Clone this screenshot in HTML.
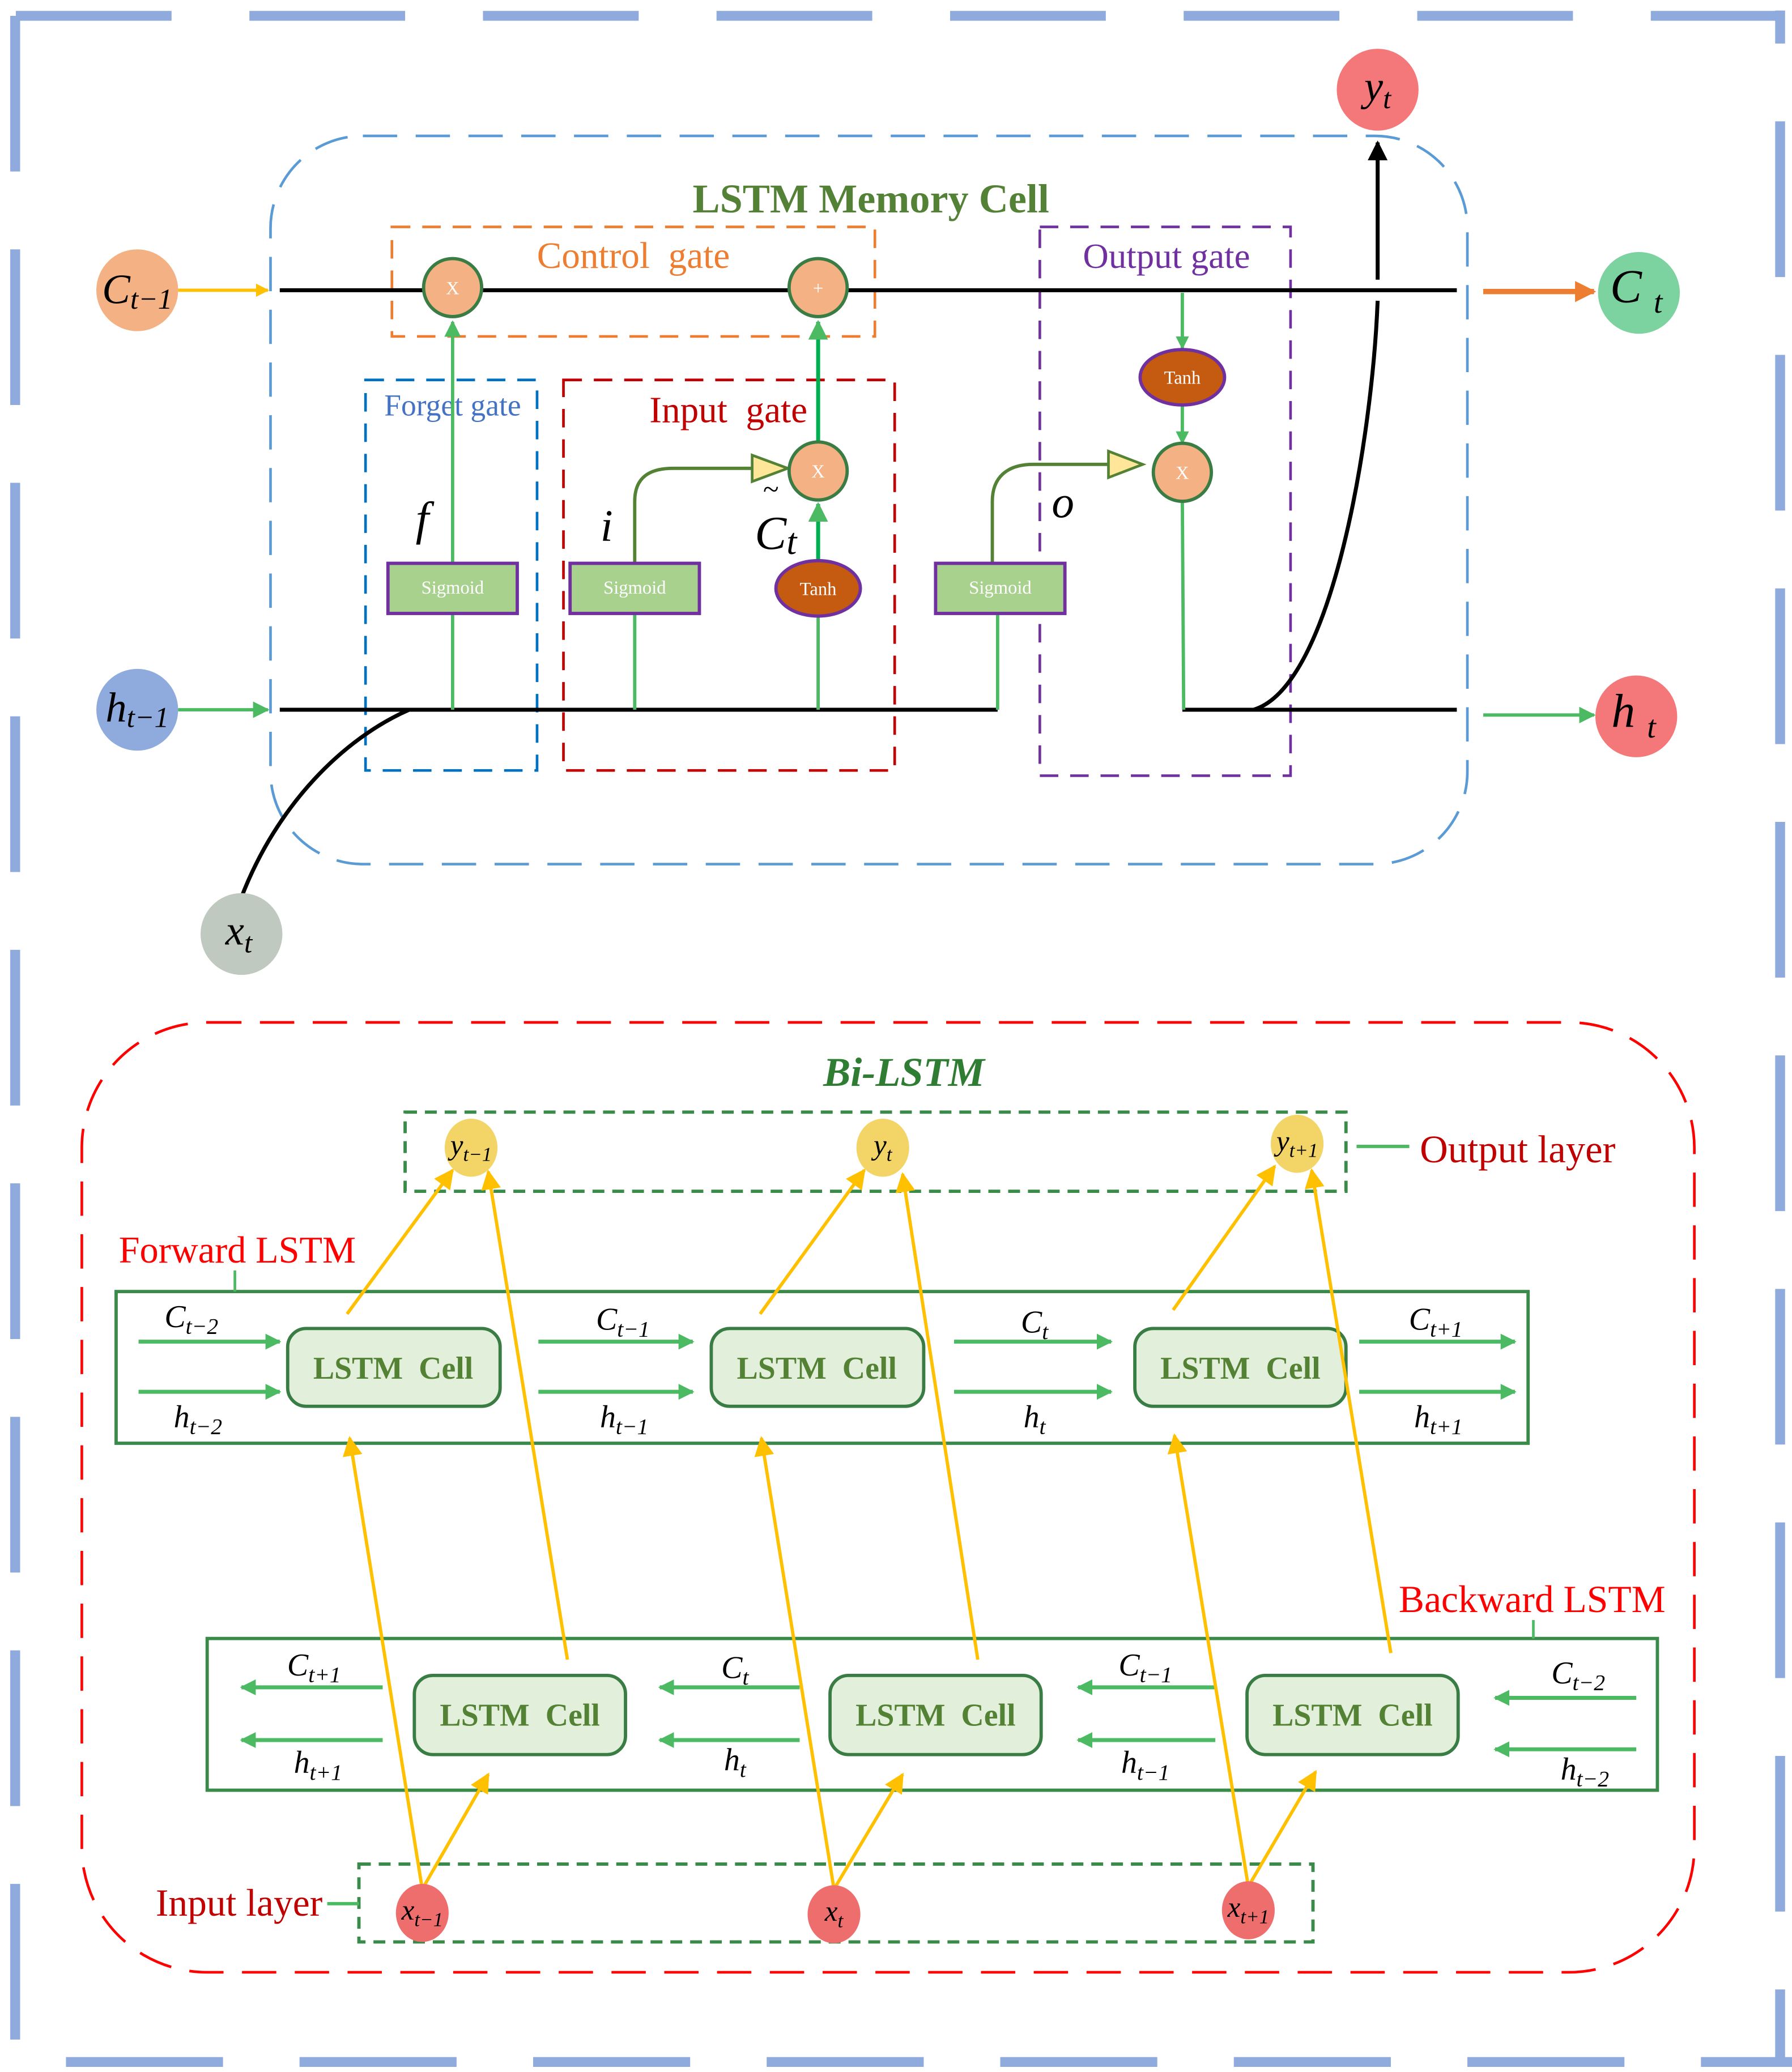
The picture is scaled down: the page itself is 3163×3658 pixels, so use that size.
<!DOCTYPE html>
<html><head><meta charset="utf-8"><style>
html,body{margin:0;padding:0;background:#fff}
svg{display:block}
text{font-family:"Liberation Serif",serif}
</style></head><body>
<svg width="3163" height="3658" viewBox="0 0 1358 1570.6" preserveAspectRatio="none" xmlns="http://www.w3.org/2000/svg">
<defs>
<marker id="ag" viewBox="0 0 10 10" refX="9" refY="5" markerWidth="5" markerHeight="5" orient="auto-start-reverse" markerUnits="strokeWidth"><path d="M0,0 L10,5 L0,10 z" fill="#4cb963"/></marker>
<marker id="ag2" viewBox="0 0 10 10" refX="9" refY="5" markerWidth="4" markerHeight="4" orient="auto" markerUnits="strokeWidth"><path d="M0,0 L10,5 L0,10 z" fill="#4cb963"/></marker>
<marker id="ay" viewBox="0 0 10 10" refX="9" refY="5" markerWidth="6" markerHeight="6" orient="auto" markerUnits="strokeWidth"><path d="M0,0 L10,5 L0,10 z" fill="#ffc000"/></marker>
<marker id="ay2" viewBox="0 0 10 10" refX="9" refY="5" markerWidth="6" markerHeight="4" orient="auto" markerUnits="strokeWidth"><path d="M0,0 L10,5 L0,10 z" fill="#ffc000"/></marker>
<marker id="ao" viewBox="0 0 10 10" refX="9" refY="5" markerWidth="4" markerHeight="4" orient="auto" markerUnits="strokeWidth"><path d="M0,0 L10,5 L0,10 z" fill="#ed7d31"/></marker>
<marker id="ab" viewBox="0 0 10 10" refX="9" refY="5" markerWidth="5" markerHeight="5" orient="auto" markerUnits="strokeWidth"><path d="M0,0 L10,5 L0,10 z" fill="#000"/></marker>
</defs>

<!-- outer border -->
<g stroke="#8faadc" stroke-width="7.5" fill="none">
<line x1="12" y1="12" x2="1349" y2="12" stroke-dasharray="118 59"/>
<line x1="1349" y1="8" x2="1349" y2="33"/>
<line x1="1349" y1="92" x2="1349" y2="1563" stroke-dasharray="118 59"/>
<line x1="11.5" y1="12" x2="11.5" y2="1563" stroke-dasharray="118 59"/>
<line x1="50" y1="1563" x2="1358" y2="1563" stroke-dasharray="119 58"/>
</g>

<!-- LSTM memory cell box -->
<rect x="205" y="103" width="907" height="552" rx="70" fill="none" stroke="#5b9bd5" stroke-width="2" stroke-dasharray="26 14"/>
<text x="660" y="161" text-anchor="middle" font-size="31" font-weight="bold" fill="#538135">LSTM Memory Cell</text>

<!-- gate boxes -->
<rect x="297" y="172" width="366" height="83" fill="none" stroke="#ed7d31" stroke-width="2" stroke-dasharray="14 9"/>
<text x="480" y="203" text-anchor="middle" font-size="28" fill="#ed7d31">Control&#160;&#160;gate</text>
<rect x="277" y="288" width="130" height="296" fill="none" stroke="#0070c0" stroke-width="2" stroke-dasharray="14 9"/>
<text x="343" y="315" text-anchor="middle" font-size="23" fill="#4472c4">Forget gate</text>
<rect x="427" y="288" width="251" height="296" fill="none" stroke="#c00000" stroke-width="2" stroke-dasharray="14 9"/>
<text x="552" y="320" text-anchor="middle" font-size="28" fill="#c00000">Input&#160;&#160;gate</text>
<rect x="788" y="172" width="190" height="416" fill="none" stroke="#7030a0" stroke-width="2" stroke-dasharray="14 9"/>
<text x="884" y="203" text-anchor="middle" font-size="27" fill="#7030a0">Output gate</text>

<!-- main lines -->
<g stroke="#000" stroke-width="3" fill="none">
<line x1="212" y1="220" x2="1104" y2="220"/>
<line x1="212" y1="538" x2="756" y2="538"/>
<line x1="896" y1="538" x2="1104" y2="538"/>
<path d="M183,680 C210,610 260,560 310,538"/>
<path d="M950,538 C1010,520 1040,330 1044,228"/>
<line x1="1044" y1="212" x2="1044" y2="108" marker-end="url(#ab)"/>
</g>

<!-- green connectors -->
<g stroke="#4cb963" stroke-width="2.5" fill="none">
<line x1="343" y1="538" x2="343" y2="465"/>
<line x1="343" y1="427" x2="343" y2="244" marker-end="url(#ag)"/>
<line x1="481" y1="538" x2="481" y2="465"/>
<line x1="620" y1="538" x2="620" y2="467"/>
<line x1="620" y1="425" x2="620" y2="382" stroke="#00b050" stroke-width="3" marker-end="url(#ag)"/>
<line x1="620" y1="335" x2="620" y2="244" stroke="#00b050" stroke-width="3" marker-end="url(#ag)"/>
<line x1="756" y1="538" x2="756" y2="465"/>
<line x1="896" y1="222" x2="896" y2="264" marker-end="url(#ag2)"/>
<line x1="896" y1="307" x2="896" y2="336" marker-end="url(#ag2)"/>
<line x1="896" y1="380" x2="897" y2="538"/>
<line x1="135" y1="538" x2="203" y2="538" marker-end="url(#ag)"/>
<line x1="1124" y1="542" x2="1208" y2="542" marker-end="url(#ag)"/>
</g>
<g stroke="#548235" stroke-width="2.5" fill="none">
<path d="M481,427 L481,380 C481,362 492,355 510,355 L570,355"/>
<path d="M752,427 L752,380 C752,362 763,352 783,352 L840,352"/>
</g>
<path d="M570,345 L597,355 L570,365 z" fill="#ffe699" stroke="#548235" stroke-width="2"/>
<path d="M840,342 L866,352 L840,362 z" fill="#ffe699" stroke="#548235" stroke-width="2"/>
<line x1="135" y1="220" x2="203" y2="220" stroke="#ffc000" stroke-width="2.5" marker-end="url(#ay2)"/>
<line x1="1124" y1="221" x2="1208" y2="221" stroke="#ed7d31" stroke-width="4" marker-end="url(#ao)"/>

<!-- operation circles -->
<g stroke="#3a7d44" stroke-width="2.5" fill="#f4b183">
<ellipse cx="343" cy="218" rx="22" ry="22"/>
<ellipse cx="620" cy="218" rx="22" ry="22"/>
<ellipse cx="620" cy="357" rx="22" ry="22"/>
<ellipse cx="896" cy="358" rx="22" ry="22"/>
</g>
<g font-size="14" fill="#fff" text-anchor="middle">
<text x="343" y="223">X</text><text x="620" y="223">+</text>
<text x="620" y="362">X</text><text x="896" y="363">X</text>
</g>

<!-- sigmoid & tanh -->
<g fill="#a9d18e" stroke="#7030a0" stroke-width="2.5">
<rect x="294" y="427" width="98" height="38"/>
<rect x="432" y="427" width="98" height="38"/>
<rect x="709" y="427" width="98" height="38"/>
</g>
<g font-size="14" fill="#fff" text-anchor="middle">
<text x="343" y="450">Sigmoid</text><text x="481" y="450">Sigmoid</text><text x="758" y="450">Sigmoid</text>
</g>
<g fill="#c55a11" stroke="#7030a0" stroke-width="2.5">
<ellipse cx="620" cy="446" rx="32" ry="21"/>
<ellipse cx="896" cy="286" rx="32" ry="21"/>
</g>
<g font-size="14" fill="#fff" text-anchor="middle">
<text x="620" y="451">Tanh</text><text x="896" y="291">Tanh</text>
</g>

<!-- gate labels -->
<g font-style="italic" fill="#000">
<text x="315" y="405" font-size="36">f</text>
<text x="455" y="410" font-size="34">i</text>
<text x="578" y="378" font-size="22">~</text>
<text x="572" y="416" font-size="36">C<tspan font-size="28" dy="4">t</tspan></text>
<text x="797" y="392" font-size="34">o</text>
</g>

<!-- state nodes -->
<circle cx="104" cy="220" r="31" fill="#f4b183"/>
<text x="104" y="230" text-anchor="middle" font-size="32" font-style="italic">C<tspan font-size="22" dy="4">t−1</tspan></text>
<circle cx="104" cy="538" r="31" fill="#8faadc"/>
<text x="104" y="547" text-anchor="middle" font-size="32" font-style="italic">h<tspan font-size="22" dy="4">t−1</tspan></text>
<circle cx="183" cy="708" r="31" fill="#bfc9bf"/>
<text x="181" y="716" text-anchor="middle" font-size="32" font-style="italic">x<tspan font-size="22" dy="6">t</tspan></text>
<circle cx="1044" cy="68" r="31" fill="#f4777a"/>
<text x="1044" y="76" text-anchor="middle" font-size="32" font-style="italic">y<tspan font-size="22" dy="6">t</tspan></text>
<circle cx="1242" cy="222" r="31" fill="#7dd3a0"/>
<text x="1240" y="229" text-anchor="middle" font-size="36" font-style="italic">C <tspan font-size="24" dy="8">t</tspan></text>
<circle cx="1240" cy="543" r="31" fill="#f4777a"/>
<text x="1238" y="551" text-anchor="middle" font-size="36" font-style="italic">h <tspan font-size="24" dy="8">t</tspan></text>

<!-- Bi-LSTM -->
<rect x="62" y="775" width="1222" height="720" rx="95" fill="none" stroke="#ff0000" stroke-width="2" stroke-dasharray="26 14"/>
<text x="685" y="823" text-anchor="middle" font-size="31" font-weight="bold" font-style="italic" fill="#2e7d32">Bi-LSTM</text>

<rect x="307" y="843" width="713" height="60" fill="none" stroke="#3a8a4a" stroke-width="2.5" stroke-dasharray="9 6"/>
<line x1="1028" y1="869" x2="1068" y2="869" stroke="#4cb963" stroke-width="2.5"/>
<text x="1076" y="881" font-size="29.5" fill="#c00000">Output layer</text>

<rect x="88" y="979" width="1070" height="115" fill="none" stroke="#3a8a4a" stroke-width="2.5"/>
<text x="90" y="957" font-size="28.5" fill="#ff0000">Forward LSTM</text>
<line x1="178" y1="963" x2="178" y2="979" stroke="#4cb963" stroke-width="2"/>

<rect x="157" y="1242" width="1099" height="115" fill="none" stroke="#3a8a4a" stroke-width="2.5"/>
<text x="1060" y="1222" font-size="29" fill="#ff0000">Backward LSTM</text>
<line x1="1162" y1="1228" x2="1162" y2="1242" stroke="#4cb963" stroke-width="2"/>

<rect x="272" y="1413" width="723" height="59" fill="none" stroke="#3a8a4a" stroke-width="2.5" stroke-dasharray="9 6"/>
<line x1="248" y1="1443" x2="272" y2="1443" stroke="#4cb963" stroke-width="2.5"/>
<text x="118" y="1452" font-size="29" fill="#c00000">Input layer</text>

<!-- cells -->
<g fill="#e2efda" stroke="#3a7d44" stroke-width="2.5">
<rect x="218" y="1007" width="161" height="59" rx="14"/>
<rect x="539" y="1007" width="161" height="59" rx="14"/>
<rect x="860" y="1007" width="160" height="59" rx="14"/>
<rect x="314" y="1270" width="160" height="60" rx="14"/>
<rect x="629" y="1270" width="160" height="60" rx="14"/>
<rect x="945" y="1270" width="160" height="60" rx="14"/>
</g>
<g font-size="24" font-weight="bold" fill="#548235" text-anchor="middle">
<text x="298" y="1045">LSTM&#160;&#160;Cell</text><text x="619" y="1045">LSTM&#160;&#160;Cell</text><text x="940" y="1045">LSTM&#160;&#160;Cell</text>
<text x="394" y="1308">LSTM&#160;&#160;Cell</text><text x="709" y="1308">LSTM&#160;&#160;Cell</text><text x="1025" y="1308">LSTM&#160;&#160;Cell</text>
</g>

<!-- forward arrows -->
<g stroke="#4cb963" stroke-width="3" fill="none">
<line x1="105" y1="1017" x2="212" y2="1017" marker-end="url(#ag2)"/>
<line x1="105" y1="1055" x2="212" y2="1055" marker-end="url(#ag2)"/>
<line x1="408" y1="1017" x2="525" y2="1017" marker-end="url(#ag2)"/>
<line x1="408" y1="1055" x2="525" y2="1055" marker-end="url(#ag2)"/>
<line x1="723" y1="1017" x2="842" y2="1017" marker-end="url(#ag2)"/>
<line x1="723" y1="1055" x2="842" y2="1055" marker-end="url(#ag2)"/>
<line x1="1030" y1="1017" x2="1148" y2="1017" marker-end="url(#ag2)"/>
<line x1="1030" y1="1055" x2="1148" y2="1055" marker-end="url(#ag2)"/>
<line x1="290" y1="1279" x2="183" y2="1279" marker-end="url(#ag2)"/>
<line x1="290" y1="1319" x2="183" y2="1319" marker-end="url(#ag2)"/>
<line x1="606" y1="1279" x2="500" y2="1279" marker-end="url(#ag2)"/>
<line x1="606" y1="1319" x2="500" y2="1319" marker-end="url(#ag2)"/>
<line x1="921" y1="1279" x2="817" y2="1279" marker-end="url(#ag2)"/>
<line x1="921" y1="1319" x2="817" y2="1319" marker-end="url(#ag2)"/>
<line x1="1240" y1="1287" x2="1133" y2="1287" marker-end="url(#ag2)"/>
<line x1="1240" y1="1326" x2="1133" y2="1326" marker-end="url(#ag2)"/>
</g>
<g font-size="24" font-style="italic" fill="#000" text-anchor="middle">
<text x="145" y="1006">C<tspan font-size="17" dy="5">t−2</tspan></text>
<text x="150" y="1082">h<tspan font-size="17" dy="5">t−2</tspan></text>
<text x="472" y="1008">C<tspan font-size="17" dy="5">t−1</tspan></text>
<text x="473" y="1082">h<tspan font-size="17" dy="5">t−1</tspan></text>
<text x="784" y="1010">C<tspan font-size="17" dy="5">t</tspan></text>
<text x="784" y="1082">h<tspan font-size="17" dy="5">t</tspan></text>
<text x="1088" y="1008">C<tspan font-size="17" dy="5">t+1</tspan></text>
<text x="1090" y="1082">h<tspan font-size="17" dy="5">t+1</tspan></text>
<text x="238" y="1270">C<tspan font-size="17" dy="5">t+1</tspan></text>
<text x="241" y="1344">h<tspan font-size="17" dy="5">t+1</tspan></text>
<text x="557" y="1272">C<tspan font-size="17" dy="5">t</tspan></text>
<text x="557" y="1342">h<tspan font-size="17" dy="5">t</tspan></text>
<text x="868" y="1270">C<tspan font-size="17" dy="5">t−1</tspan></text>
<text x="868" y="1344">h<tspan font-size="17" dy="5">t−1</tspan></text>
<text x="1196" y="1276">C<tspan font-size="17" dy="5">t−2</tspan></text>
<text x="1201" y="1349">h<tspan font-size="17" dy="5">t−2</tspan></text>
</g>

<!-- yellow arrows -->
<g stroke="#ffc000" stroke-width="2.5" fill="none">
<line x1="320" y1="1432" x2="265" y2="1090" marker-end="url(#ay)"/>
<line x1="320" y1="1432" x2="370" y2="1345" marker-end="url(#ay)"/>
<line x1="430" y1="1258" x2="370" y2="888" marker-end="url(#ay)"/>
<line x1="263" y1="996" x2="343" y2="887" marker-end="url(#ay)"/>
<line x1="632" y1="1432" x2="577" y2="1090" marker-end="url(#ay)"/>
<line x1="632" y1="1432" x2="684" y2="1345" marker-end="url(#ay)"/>
<line x1="741" y1="1258" x2="684" y2="890" marker-end="url(#ay)"/>
<line x1="576" y1="996" x2="655" y2="887" marker-end="url(#ay)"/>
<line x1="946" y1="1430" x2="890" y2="1088" marker-end="url(#ay)"/>
<line x1="946" y1="1430" x2="997" y2="1343" marker-end="url(#ay)"/>
<line x1="1054" y1="1253" x2="994" y2="887" marker-end="url(#ay)"/>
<line x1="889" y1="993" x2="966" y2="884" marker-end="url(#ay)"/>
</g>

<!-- y and x nodes -->
<g fill="#f2d566">
<ellipse cx="357" cy="870" rx="20" ry="22"/>
<ellipse cx="669" cy="870" rx="20" ry="22"/>
<ellipse cx="983" cy="867" rx="20" ry="22"/>
</g>
<g fill="#ee6e6e">
<ellipse cx="320" cy="1450" rx="20" ry="22"/>
<ellipse cx="632" cy="1451" rx="20" ry="22"/>
<ellipse cx="946" cy="1448" rx="20" ry="22"/>
</g>
<g font-size="22" font-style="italic" fill="#000" text-anchor="middle">
<text x="357" y="875">y<tspan font-size="15" dy="5">t−1</tspan></text>
<text x="669" y="875">y<tspan font-size="15" dy="5">t</tspan></text>
<text x="983" y="872">y<tspan font-size="15" dy="5">t+1</tspan></text>
<text x="320" y="1455">x<tspan font-size="15" dy="5">t−1</tspan></text>
<text x="632" y="1456">x<tspan font-size="15" dy="5">t</tspan></text>
<text x="946" y="1453">x<tspan font-size="15" dy="5">t+1</tspan></text>
</g>
</svg>
</body></html>
